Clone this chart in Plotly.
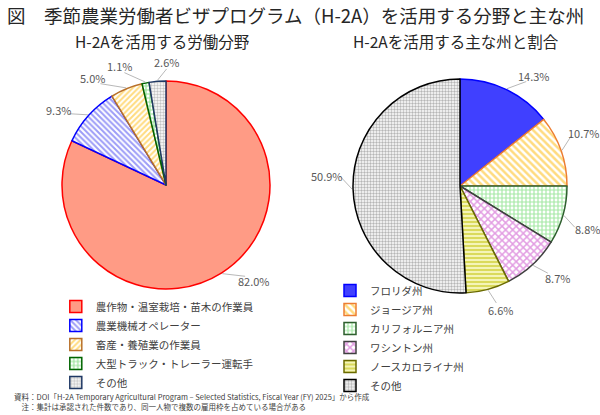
import math
import plotly.graph_objects as go

FONT = "Noto Sans CJK JP"
W, H = 600, 415

left_labels = ["農作物・温室栽培・苗木の作業員", "農業機械オペレーター", "畜産・養殖業の作業員",
               "大型トラック・トレーラー運転手", "その他"]
left_values = [82.0, 9.3, 5.0, 1.1, 2.6]

# the zero-width space keeps this "その他" separate from the left chart's legend entry
right_labels = ["フロリダ州", "ジョージア州", "カリフォルニア州", "ワシントン州", "ノースカロライナ州", "その他\u200b"]
right_values = [14.3, 10.7, 8.8, 8.7, 6.6, 50.9]

# styles
left_fg = ["#FF9B85", "#3A3AF0", "#FFB800", "#2EC42E", "#8A8A8A"]
left_bg = ["#FF9B85", "white", "white", "white", "white"]
left_shape = ["", "\\", "/", "+", "."]
left_size = [4, 4, 4, 4, 3]
left_line = ["#FF0000", "#0000FF", "#B8702A", "#006400", "#1F3864"]
left_nudge = [-10, -7, -12, -10, 5]          # label angle offsets (deg)

right_fg = ["#4040FF", "#FFB800", "#4CD24C", "#C63CC6", "#C0C000", "#6E6E6E"]
right_bg = ["#4040FF", "white", "white", "white", "#F4F4B8", "white"]
right_shape = ["", "\\", "+", "x", "-", "."]
right_size = [4, 5, 4, 5, 4, 3]
right_line = ["#0000FF", "#ED7D31", "#2F5F2F", "#404040", "#6B6B00", "#000000"]
right_nudge = [8, -4, 3, -4, -3, 6]

# pie boxes in pixels (left, top, right, bottom)
left_box = (62, 81, 270, 289)
right_box = (353, 79, 567, 293)


def dom(box):
    x0, y0, x1, y1 = box
    return dict(x=[x0 / W, x1 / W], y=[1 - y1 / H, 1 - y0 / H])


fig = go.Figure()


def add_pie(labels, values, box, fg, bg, shape, size, line, legend):
    fig.add_trace(go.Pie(
        labels=labels, values=values, sort=False, direction="clockwise", rotation=0,
        domain=dom(box), textinfo="none",
        marker=dict(colors=bg, line=dict(color=line, width=1.5),
                    pattern=dict(shape=shape, fgcolor=fg, bgcolor=bg,
                                 size=size, solidity=0.5, fillmode="overlay")),
        hoverinfo="label+value", legend=legend, showlegend=True,
    ))


add_pie(left_labels, left_values, left_box, left_fg, left_bg, left_shape, left_size, left_line, "legend")
add_pie(right_labels, right_values, right_box, right_fg, right_bg, right_shape, right_size, right_line, "legend2")

annotations = []
shapes = []


def add_value_labels(values, box, nudges):
    x0, y0, x1, y1 = box
    cx, cy = (x0 + x1) / 2, (y0 + y1) / 2
    r = min(x1 - x0, y1 - y0) / 2
    total = sum(values)
    cum = 0.0
    for v, nd in zip(values, nudges):
        mid = math.radians((cum + v / 2) / total * 360)
        cum += v
        a = mid + math.radians(nd)
        d = r + 12 + 14 * abs(math.sin(a)) + 7 * abs(math.cos(a))
        lx, ly = cx + d * math.sin(a), cy - d * math.cos(a)
        ex, ey = cx + (r + 1) * math.sin(mid), cy - (r + 1) * math.cos(mid)
        tx = lx - 14 * math.sin(a) * 0.95
        ty = ly + 7 * math.cos(a)
        shapes.append(dict(type="line", xref="paper", yref="paper",
                           x0=ex / W, y0=1 - ey / H, x1=tx / W, y1=1 - ty / H,
                           line=dict(color="#A6A6A6", width=0.8)))
        annotations.append(dict(text=f"{v:.1f}%", x=lx / W, y=1 - ly / H, xref="paper", yref="paper",
                                xanchor="center", yanchor="middle", showarrow=False,
                                font=dict(family=FONT, size=11, color="#595959")))


add_value_labels(left_values, left_box, left_nudge)
add_value_labels(right_values, right_box, right_nudge)

annotations += [
    dict(text="図　季節農業労働者ビザプログラム（H-2A）を活用する分野と主な州",
         x=0.008, y=1 - 15 / H, xref="paper", yref="paper", xanchor="left", yanchor="middle",
         showarrow=False, font=dict(family=FONT, size=18.5, color="#262626")),
    dict(text="H-2Aを活用する労働分野", x=162 / W, y=1 - 41 / H, xref="paper", yref="paper",
         xanchor="center", yanchor="middle", showarrow=False,
         font=dict(family=FONT, size=15.5, color="#262626")),
    dict(text="H-2Aを活用する主な州と割合", x=456 / W, y=1 - 41 / H, xref="paper", yref="paper",
         xanchor="center", yanchor="middle", showarrow=False,
         font=dict(family=FONT, size=15.5, color="#262626")),
    dict(text="資料：DOI「H-2A Temporary Agricultural Program – Selected Statistics, Fiscal Year (FY) 2025」から作成",
         x=12 / W, y=1 - 396 / H, xref="paper", yref="paper", xanchor="left", yanchor="middle",
         showarrow=False, font=dict(family=FONT, size=7.5, color="#404040")),
    dict(text="　注：集計は承認された件数であり、同一人物で複数の雇用枠を占めている場合がある",
         x=12 / W, y=1 - 406 / H, xref="paper", yref="paper", xanchor="left", yanchor="middle",
         showarrow=False, font=dict(family=FONT, size=7.5, color="#404040")),
]

fig.update_layout(
    width=W, height=H,
    margin=dict(l=0, r=0, t=0, b=0),
    paper_bgcolor="white",
    font=dict(family=FONT, color="#404040"),
    legend=dict(x=0.093, y=1 - 292 / H, xanchor="left", yanchor="top",
                font=dict(family=FONT, size=10.5, color="#404040"),
                tracegroupgap=0, itemwidth=30, bgcolor="rgba(0,0,0,0)"),
    legend2=dict(x=0.55, y=1 - 276 / H, xanchor="left", yanchor="top",
                 font=dict(family=FONT, size=10.5, color="#404040"),
                 tracegroupgap=0, itemwidth=30, bgcolor="rgba(0,0,0,0)"),
    annotations=annotations,
    shapes=shapes,
)

fig.write_html("out.html")
